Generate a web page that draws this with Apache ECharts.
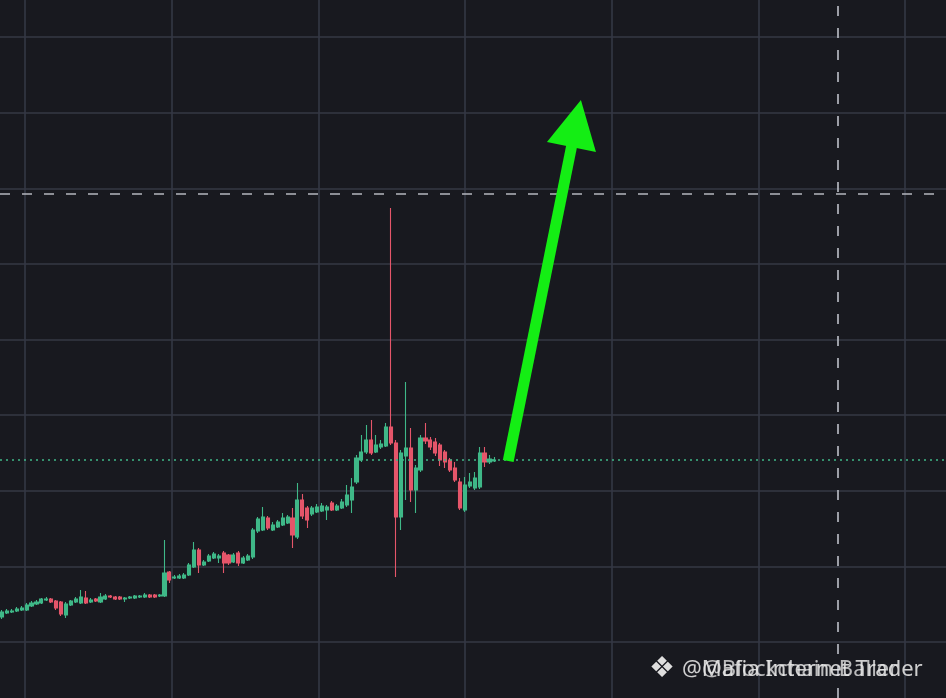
<!DOCTYPE html>
<html>
<head>
<meta charset="utf-8">
<script src="https://cdn.jsdelivr.net/npm/echarts@6.0.0/dist/echarts.min.js"></script>
<style>
html,body{margin:0;padding:0;background:#18191f;}
#c{width:946px;height:698px;}
</style>
</head>
<body>
<div id="c"></div>
<script>
// ---- candle data (price units) ----
const opens = [
  0.83,0.87,0.88,0.89,0.90,0.90,0.94,0.96,0.97,1.00,
  1.01,0.99,0.98,0.85,0.95,0.98,0.97,1.02,0.98,1.01,
  0.98,1.01,1.04,1.03,1.03,1.01,1.02,1.02,1.03,1.03,
  1.05,1.05,1.04,1.04,1.28,1.22,1.22,1.22,1.25,1.33,
  1.50,1.35,1.39,1.42,1.42,1.47,1.45,1.38,1.47,1.37,
  1.40,1.43,1.69,1.70,1.82,1.70,1.73,1.75,1.77,1.82,
  1.63,2.00,1.92,1.86,1.88,1.89,1.90,1.97,1.90,1.92,
  1.95,2.00,2.18,2.40,2.48,2.60,2.48,2.53,2.54,2.73,
  2.57,1.83,2.44,2.52,2.10,2.30,2.62,2.60,2.58,2.55,
  2.48,2.40,2.32,2.18,1.90,2.14,2.12,2.13,2.47,2.38,
  2.39
];
const closes = [
  0.88,0.89,0.89,0.91,0.92,0.95,0.97,0.98,1.01,1.01,
  0.98,0.92,0.86,0.96,0.99,1.01,1.03,0.97,1.00,0.99,
  1.03,1.04,1.03,1.01,1.01,1.02,1.03,1.04,1.04,1.05,
  1.03,1.03,1.05,1.27,1.20,1.23,1.24,1.25,1.35,1.50,
  1.35,1.38,1.44,1.46,1.44,1.37,1.37,1.45,1.37,1.42,
  1.44,1.70,1.81,1.83,1.72,1.75,1.78,1.82,1.83,1.65,
  2.00,1.84,1.80,1.92,1.93,1.94,1.93,1.90,1.94,1.98,
  2.05,2.13,2.42,2.48,2.60,2.47,2.55,2.56,2.73,2.57,
  1.83,2.47,2.52,2.10,2.32,2.62,2.59,2.53,2.47,2.40,
  2.38,2.30,2.20,1.92,2.15,2.18,2.22,2.47,2.38,2.41,
  2.40
];
const lows = [
  0.81,0.86,0.87,0.88,0.89,0.89,0.93,0.95,0.96,0.99,
  0.97,0.90,0.84,0.82,0.94,0.97,0.96,0.96,0.97,0.98,
  0.97,1.00,1.02,1.00,1.00,0.98,1.01,1.01,1.02,1.02,
  1.02,1.02,1.03,1.03,1.17,1.21,1.21,1.21,1.24,1.32,
  1.27,1.34,1.38,1.41,1.37,1.27,1.35,1.37,1.34,1.36,
  1.39,1.41,1.67,1.69,1.70,1.69,1.72,1.74,1.76,1.52,
  1.61,1.81,1.72,1.84,1.87,1.88,1.80,1.89,1.89,1.91,
  1.93,1.87,2.16,2.38,2.46,2.45,2.47,2.51,2.53,2.55,
  1.23,1.70,2.00,1.98,1.87,2.28,2.56,2.50,2.44,2.34,
  2.32,2.28,2.18,1.90,1.88,2.12,2.10,2.11,2.33,2.36,
  2.38
];
const highs = [
  0.90,0.91,0.91,0.93,0.94,0.97,0.99,1.00,1.02,1.03,
  1.02,1.00,0.99,0.98,1.00,1.03,1.10,1.09,1.02,1.02,
  1.07,1.06,1.05,1.04,1.04,1.03,1.04,1.05,1.05,1.07,
  1.06,1.06,1.06,1.60,1.29,1.25,1.26,1.27,1.37,1.58,
  1.52,1.40,1.46,1.48,1.46,1.49,1.46,1.47,1.49,1.44,
  1.46,1.72,1.83,1.93,1.84,1.78,1.80,1.87,1.85,1.92,
  2.17,2.06,1.94,1.94,1.96,1.97,1.95,1.99,1.96,2.01,
  2.15,2.22,2.45,2.65,2.75,2.80,2.65,2.60,2.77,4.92,
  2.60,2.50,3.18,2.72,2.35,2.65,2.77,2.63,2.62,2.57,
  2.50,2.42,2.38,2.22,2.23,2.27,2.28,2.53,2.53,2.45,
  2.43
];
const categories = opens.map((_, i) => 'C' + (i + 1));

// annotation values (data coordinates)
const resistancePrice = 5.06;     // dashed horizontal line
const markerIndex = 169.8;        // dashed vertical line (bar index)
const arrowFrom = [102.8, 2.39];  // [bar index, price]
const arrowTo = [116.6, 5.765];
const watermarkTexts = ['@Mafia Internet Trader', '@Blockchain Baller'];

const UP = '#3fb888', DOWN = '#e5566a', ARROW = '#14ee14', DASH = '#b4b7bf';
const lastClose = closes[closes.length - 1];
const candleData = opens.map((o, i) => [o, closes[i], lows[i], highs[i]]);

const hide = {axisLine:{show:false}, axisTick:{show:false}, axisLabel:{show:false}, splitLine:{show:false}};
const gridLine = {show:true, lineStyle:{color:'#343844', width:1.6}};

const chart = echarts.init(document.getElementById('c'), null, {renderer:'canvas', width:946, height:698});
chart.setOption({
  backgroundColor: '#18191f',
  animation: false,
  grid: [
    {left: 0, top: 0, width: 946, height: 698, outerBoundsMode: 'none', containLabel: false},
    {left: -121.667, top: -38.625, width: 1173.333, height: 756.25, outerBoundsMode: 'none', containLabel: false},
    {left: -0.462, top: 0, width: 497.32, height: 698, outerBoundsMode: 'none', containLabel: false}
  ],
  xAxis: [
    Object.assign({type:'value', gridIndex:0, min:-0.406, max:191.7}, hide),
    Object.assign({}, hide, {type:'value', gridIndex:1, min:0, max:8, interval:1, splitLine:gridLine}),
    Object.assign({type:'category', gridIndex:2, data:categories, boundaryGap:true}, hide)
  ],
  yAxis: [
    Object.assign({type:'value', gridIndex:0, min:0.02, max:7}, hide),
    Object.assign({}, hide, {type:'value', gridIndex:1, min:0, max:10, interval:1, splitLine:gridLine}),
    Object.assign({type:'value', gridIndex:2, min:0.02, max:7, scale:true}, hide)
  ],
  series: [
    {
      type: 'candlestick', xAxisIndex: 2, yAxisIndex: 2, data: candleData,
      barWidth: 3.6, z: 3, silent: true,
      itemStyle: {color: UP, color0: DOWN, borderColor: UP, borderColor0: DOWN, borderWidth: 1.1}
    },
    {
      type: 'line', xAxisIndex: 0, yAxisIndex: 0, z: 4, silent: true,
      data: [[arrowFrom[0], lastClose]], symbol: 'none', lineStyle: {opacity: 0},
      markLine: {
        silent: true, animation: false, symbol: ['none', 'none'], label: {show: false},
        emphasis: {disabled: true},
        data: [
          {yAxis: lastClose, lineStyle: {color: UP, type: [2, 4], width: 1.6}},
          {yAxis: resistancePrice, lineStyle: {color: DASH, type: [10, 12], width: 1.7}},
          {xAxis: markerIndex, lineStyle: {color: DASH, type: [10, 12], width: 1.7}},
          [
            {coord: arrowFrom, symbol: 'none', lineStyle: {color: ARROW, width: 11, type: 'solid'}, itemStyle: {color: ARROW}},
            {coord: arrowTo, symbol: 'triangle', symbolSize: [50, 48], itemStyle: {color: ARROW}}
          ]
        ]
      }
    }
  ],
  graphic: [
    {type: 'text', x: 649, y: 669, z: 10, style: {text: '❖', fontSize: 29, fill: '#dedede', verticalAlign: 'middle', fontFamily: 'DejaVu Sans'}},
    {type: 'text', x: 682, y: 670, z: 10, style: {text: watermarkTexts[0], fontSize: 22, fill: 'rgba(232,232,232,0.88)', verticalAlign: 'middle', fontFamily: 'Noto Sans'}},
    {type: 'text', x: 702, y: 670, z: 10, style: {text: watermarkTexts[1], fontSize: 22, fill: 'rgba(232,232,232,0.78)', verticalAlign: 'middle', fontFamily: 'Noto Sans'}}
  ]
});
</script>
</body>
</html>
